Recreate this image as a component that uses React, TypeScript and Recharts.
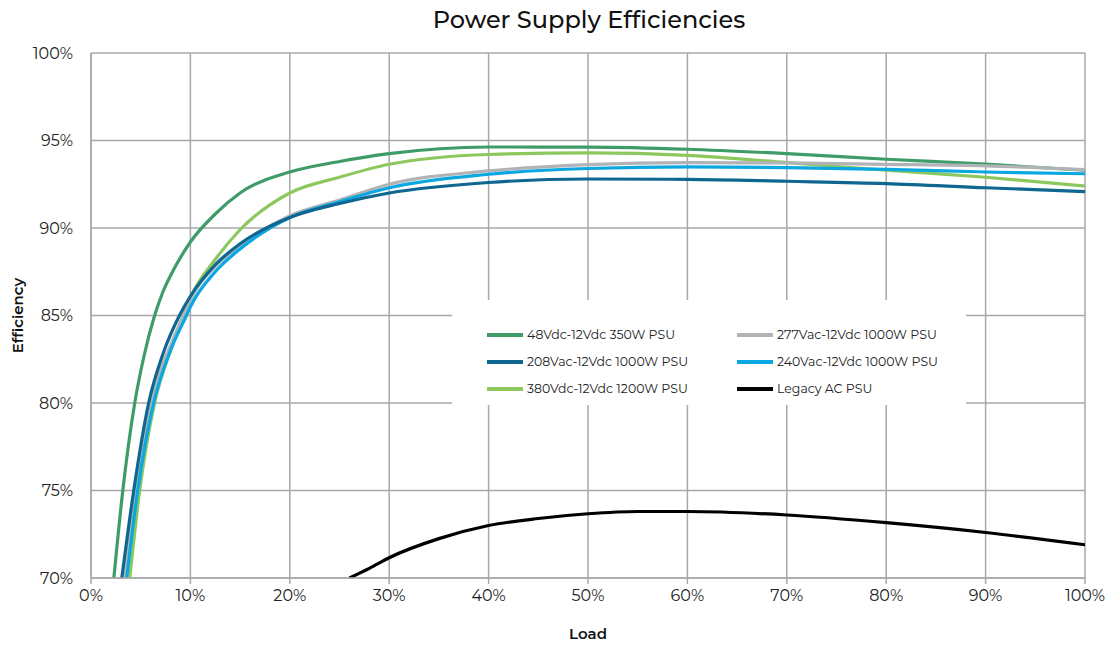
import React from "react";
import { LineChart, Line, XAxis, YAxis, CartesianGrid, Label } from "recharts";

const FONT = "'Montserrat', 'Noto Sans', 'Open Sans', sans-serif";

const xTicks = [0, 10, 20, 30, 40, 50, 60, 70, 80, 90, 100];
const yTicks = [70, 75, 80, 85, 90, 95, 100];

const load48 = [2.3, 3.2, 4.4, 5.3, 6.4, 7.2, 8.2, 9.2, 10, 12.5, 15, 20, 25, 30, 40, 50, 60, 70, 80, 90, 100];
const eff48 = [70, 75, 80, 82.6, 85, 86.3, 87.5, 88.5, 89.2, 90.8, 92.0, 93.2, 93.8, 94.25, 94.63, 94.62, 94.5, 94.25, 93.93, 93.65, 93.3];

const load208 = [3.1, 4.3, 5.8, 7.3, 8.9, 10, 12.5, 15, 20, 25, 30, 40, 50, 60, 70, 80, 90, 100];
const eff208 = [70, 75, 80, 82.9, 85, 86.1, 87.9, 89.1, 90.6, 91.4, 92.0, 92.6, 92.8, 92.78, 92.67, 92.54, 92.3, 92.08];

const load380 = [3.9, 4.9, 6.4, 8, 9.3, 10, 12.5, 15, 20, 25, 30, 40, 50, 60, 70, 80, 90, 100];
const eff380 = [70, 75, 80, 83, 85, 86.0, 88.2, 89.9, 92.0, 92.9, 93.64, 94.2, 94.29, 94.15, 93.74, 93.3, 92.9, 92.4];

const load277 = [3.4, 4.5, 6.0, 8, 9.3, 10, 12.5, 15, 20, 25, 30, 40, 50, 60, 70, 80, 90, 100];
const eff277 = [70, 75, 80, 83.3, 85, 85.9, 87.8, 89.0, 90.7, 91.6, 92.5, 93.26, 93.62, 93.74, 93.72, 93.64, 93.55, 93.34];

const load240 = [3.6, 4.7, 6.3, 8, 9.6, 10, 12.5, 15, 20, 25, 30, 40, 50, 60, 70, 80, 90, 100];
const eff240 = [70, 75, 80, 83, 85, 85.5, 87.5, 88.8, 90.6, 91.5, 92.3, 93.07, 93.4, 93.49, 93.45, 93.35, 93.2, 93.1];

const loadLegacy = [26, 28, 30, 35, 40, 45, 50, 55, 60, 70, 80, 90, 100];
const effLegacy = [70, 70.55, 71.16, 72.25, 73.0, 73.4, 73.67, 73.8, 73.8, 73.6, 73.16, 72.6, 71.9];

const names = [
  "48Vdc-12Vdc 350W PSU",
  "208Vac-12Vdc 1000W PSU",
  "380Vdc-12Vdc 1200W PSU",
  "277Vac-12Vdc 1000W PSU",
  "240Vac-12Vdc 1000W PSU",
  "Legacy AC PSU",
];
const colors = ["#3f9c69", "#0f6791", "#8dc85f", "#b1b3b7", "#0aa7e1", "#000000"];

const zip = (xs: number[], ys: number[]) => xs.map((x, i) => ({ x, y: ys[i] }));

const series = [
  { name: names[0], color: colors[0], data: zip(load48, eff48) },
  { name: names[2], color: colors[2], data: zip(load380, eff380) },
  { name: names[3], color: colors[3], data: zip(load277, eff277) },
  { name: names[4], color: colors[4], data: zip(load240, eff240) },
  { name: names[1], color: colors[1], data: zip(load208, eff208) },
  { name: names[5], color: colors[5], data: zip(loadLegacy, effLegacy) },
];

const legendOrder = [0, 3, 1, 4, 2, 5];

const LegendBox = () => (
  <div
    style={{
      position: "absolute",
      left: 452,
      top: 300,
      width: 514,
      height: 105,
      background: "#fff",
      display: "grid",
      gridTemplateColumns: "250px 250px",
      gridAutoRows: "27px",
      paddingTop: 21,
      paddingLeft: 35,
      boxSizing: "border-box",
      fontFamily: FONT,
      fontSize: 12.5,
      color: "#222",
    }}
  >
    {legendOrder.map((i) => (
      <div key={i} style={{ display: "flex", alignItems: "center" }}>
        <span style={{ display: "inline-block", width: 36, height: 4, background: colors[i], marginRight: 4 }} />
        <span>{names[i]}</span>
      </div>
    ))}
  </div>
);

export default function App() {
  return (
    <div style={{ position: "absolute", left: 0, top: 0, width: 1107, height: 645, background: "#fff" }}>
      <LineChart width={1107} height={645} margin={{ top: 53, right: 22, bottom: 37, left: 31 }}>
        <CartesianGrid stroke="#a8a8a8" strokeWidth={1.5} />
        <XAxis
          type="number"
          dataKey="x"
          domain={[0, 100]}
          ticks={xTicks}
          allowDataOverflow
          tickFormatter={(v) => `${v}%`}
          stroke="#a8a8a8"
          strokeWidth={1.5}
          tickSize={6}
          height={30}
          tick={{ fill: "#222", fontSize: 16, fontFamily: FONT }}
          tickMargin={6}
        >
          <Label value="Load" position="bottom" offset={20} style={{ fill: "#111", fontSize: 15, fontWeight: 600, fontFamily: FONT }} />
        </XAxis>
        <YAxis
          type="number"
          domain={[70, 100]}
          ticks={yTicks}
          allowDataOverflow
          tickFormatter={(v) => `${v}%`}
          width={60}
          stroke="#a8a8a8"
          strokeWidth={1.5}
          tickLine={false}
          tick={{ fill: "#222", fontSize: 16, fontFamily: FONT }}
          tickMargin={12}
        >
          <Label
            value="Efficiency"
            angle={-90}
            position="insideLeft"
            offset={-13}
            style={{ fill: "#111", fontSize: 15, fontWeight: 600, fontFamily: FONT, textAnchor: "middle" }}
          />
        </YAxis>
        {series.map((s) => (
          <Line
            key={s.name}
            data={s.data}
            dataKey="y"
            name={s.name}
            type="monotone"
            stroke={s.color}
            strokeWidth={3.2}
            dot={false}
            activeDot={false}
            isAnimationActive={false}
          />
        ))}
      </LineChart>
      <div
        style={{
          position: "absolute",
          left: 0,
          top: 5,
          width: 1178,
          textAlign: "center",
          fontFamily: FONT,
          fontSize: 24,
          fontWeight: 500,
          color: "#111",
        }}
      >
        Power Supply Efficiencies
      </div>
      <LegendBox />
    </div>
  );
}
